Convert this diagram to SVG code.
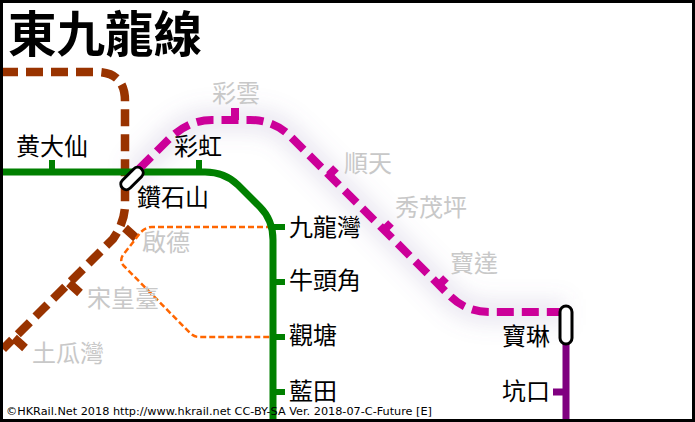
<svg xmlns="http://www.w3.org/2000/svg" width="695" height="422" viewBox="0 0 695 422">
<style>
text{font-family:"Noto Sans CJK TC","Noto Sans CJK SC",sans-serif}
.st{font-size:24px;fill:#000}
.gr{font-size:24px;fill:#c8c8c8}
.ln{fill:none}
.br{stroke:#993300;stroke-width:8.500}
.mg{stroke:#cc0099;stroke-width:8}
.gn{stroke:#008000;stroke-width:7}
.pu{stroke:#800080;stroke-width:7}
.or{stroke:#ff6600;stroke-width:2.5;stroke-dasharray:6 3}
.ic{fill:#fff;stroke:#000;stroke-width:3}
</style>
<defs><filter id="glow" x="-20%" y="-20%" width="140%" height="140%"><feGaussianBlur stdDeviation="10"/></filter></defs>
<rect width="695" height="422" fill="#fff"/>
<g id="connectors">
<path class="ln" filter="url(#glow)" stroke="#8070a8" stroke-opacity=".15" stroke-width="26" d="M132 176L168 140Q188 120 212 120H250Q274 120 290 136L450 296Q466 312 490 312H566"/>
<path class="ln br" stroke-dasharray="17 8" d="M1 72H96Q125 72 125 101V205Q125 222 113 239L3 349"/>
<path class="ln br" d="M14 338L25 348M69 283L80 293M125 228L136 238"/>
<path class="ln or" d="M272 227H152Q146 227 141 232L123 255Q119 261 124 266L190 333Q194 337 199 337H272"/>
<path class="ln gn" d="M3 172H205Q225 172 238 185L260 207Q273 220 273 240V419"/>
<path class="ln gn" style="stroke-width:6" d="M52 160V172M199 160V172M273 227H285M273 282H285M273 337H285M273 392H285"/>
<path class="ln mg" stroke-dasharray="17 8" stroke-dashoffset="15" d="M132 176L168 140Q188 120 212 120H250Q274 120 290 136L450 296Q466 312 490 312H566"/>
<path class="ln mg" d="M235 108V120M329 175L336 168M384 230L391 223M439 285L446 278"/>
<path class="ln pu" d="M566 340V419M553 392H566"/>
</g>
<g id="n-zuanshishan"><rect class="ic" x="118.500" y="173" width="27" height="11" rx="5.500" transform="rotate(-45 132 178.500)"/><text class="st" x="137" y="206">鑽石山</text></g>
<g id="n-huangdaxian"><text class="st" x="16" y="155">黄大仙</text></g>
<g id="n-caihong"><text class="st" x="174" y="155">彩虹</text></g>
<g id="n-caiyun"><text class="gr" x="212" y="102">彩雲</text></g>
<g id="n-shuntian"><text class="gr" x="344" y="172">順天</text></g>
<g id="n-xiumaoping"><text class="gr" x="395" y="216">秀茂坪</text></g>
<g id="n-baoda"><text class="gr" x="450" y="272">寶達</text></g>
<g id="n-baolin"><rect class="ic" x="560" y="306" width="12" height="38" rx="6"/><text class="st" x="502" y="345">寶琳</text></g>
<g id="n-kengkou"><text class="st" x="502" y="400">坑口</text></g>
<g id="n-jiulongwan"><text class="st" x="289" y="236">九龍灣</text></g>
<g id="n-niutoujiao"><text class="st" x="289" y="289">牛頭角</text></g>
<g id="n-guantang"><text class="st" x="289" y="344">觀塘</text></g>
<g id="n-lantian"><text class="st" x="289" y="400">藍田</text></g>
<g id="n-qide"><text class="gr" x="142" y="251">啟德</text></g>
<g id="n-songhuangtai"><text class="gr" x="87" y="307">宋皇臺</text></g>
<g id="n-tuguawan"><text class="gr" x="32" y="362">土瓜灣</text></g>
<text x="8" y="52" font-size="48.5" font-weight="700" fill="#000">東九龍線</text>
<text x="6" y="415" font-size="11.25" style="font-family:'DejaVu Sans',sans-serif" fill="#000">©HKRail.Net 2018 http://www.hkrail.net CC-BY-SA Ver. 2018-07-C-Future [E]</text>
<rect x="1.5" y="1.5" width="692" height="419" fill="none" stroke="#000" stroke-width="3"/>
</svg>
